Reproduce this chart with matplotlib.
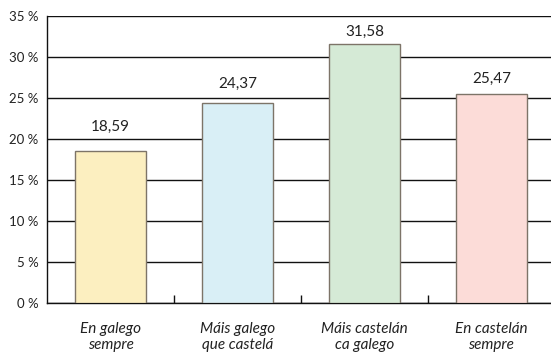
import matplotlib.pyplot as plt
from matplotlib.ticker import FixedLocator

categories = ["En galego\nsempre", "Máis galego\nque castelá", "Máis castelán\nca galego", "En castelán\nsempre"]
values = [18.59, 24.37, 31.58, 25.47]
value_labels = ["18,59", "24,37", "31,58", "25,47"]
y_ticks = [0, 5, 10, 15, 20, 25, 30, 35]
y_tick_labels = ["0 %", "5 %", "10 %", "15 %", "20 %", "25 %", "30 %", "35 %"]
colors = ["#FCEFC0", "#D9EFF6", "#D5EAD6", "#FCDCD8"]
# vertical gap (pixels) between each bar top and its value label
label_gaps = [24, 19, 12, 15]

plt.rcParams['font.family'] = ['Lato', 'DejaVu Sans']

fig = plt.figure(figsize=(5.51, 3.57), dpi=100)
ax = fig.add_axes([47/551, 1 - 303/357, 504/551, 287/357])

x = list(range(len(values)))
ax.bar(x, values, width=0.56, color=colors, edgecolor="#7d7468", linewidth=1.0, zorder=3)

for xi, v, lab, gap in zip(x, values, value_labels, label_gaps):
    ax.annotate(lab, (xi, v), xytext=(0, gap), textcoords="offset pixels",
                ha="center", va="center", fontsize=11, color="#222222")

ax.set_xlim(-0.5, 3.47)
ax.set_ylim(0, 35)
ax.set_yticks(y_ticks)
ax.set_yticklabels(y_tick_labels, fontsize=9.5, color="#222222")
ax.yaxis.grid(True, color="#111111", linewidth=1.0, zorder=0)
ax.set_axisbelow(True)
ax.tick_params(axis="y", length=0, pad=6)

ax.set_xticks(x)
ax.set_xticklabels(categories, fontsize=11, style="italic", color="#222222", linespacing=1.1)
ax.tick_params(axis="x", which="major", length=0, pad=14)
ax.xaxis.set_minor_locator(FixedLocator([0.5, 1.5, 2.5]))
ax.tick_params(axis="x", which="minor", direction="in", length=6, width=1, color="#111111")

for s in ["top", "right"]:
    ax.spines[s].set_visible(False)
for s in ["left", "bottom"]:
    ax.spines[s].set_color("#111111")
    ax.spines[s].set_linewidth(1.0)

fig.savefig("out.png", dpi=100)
